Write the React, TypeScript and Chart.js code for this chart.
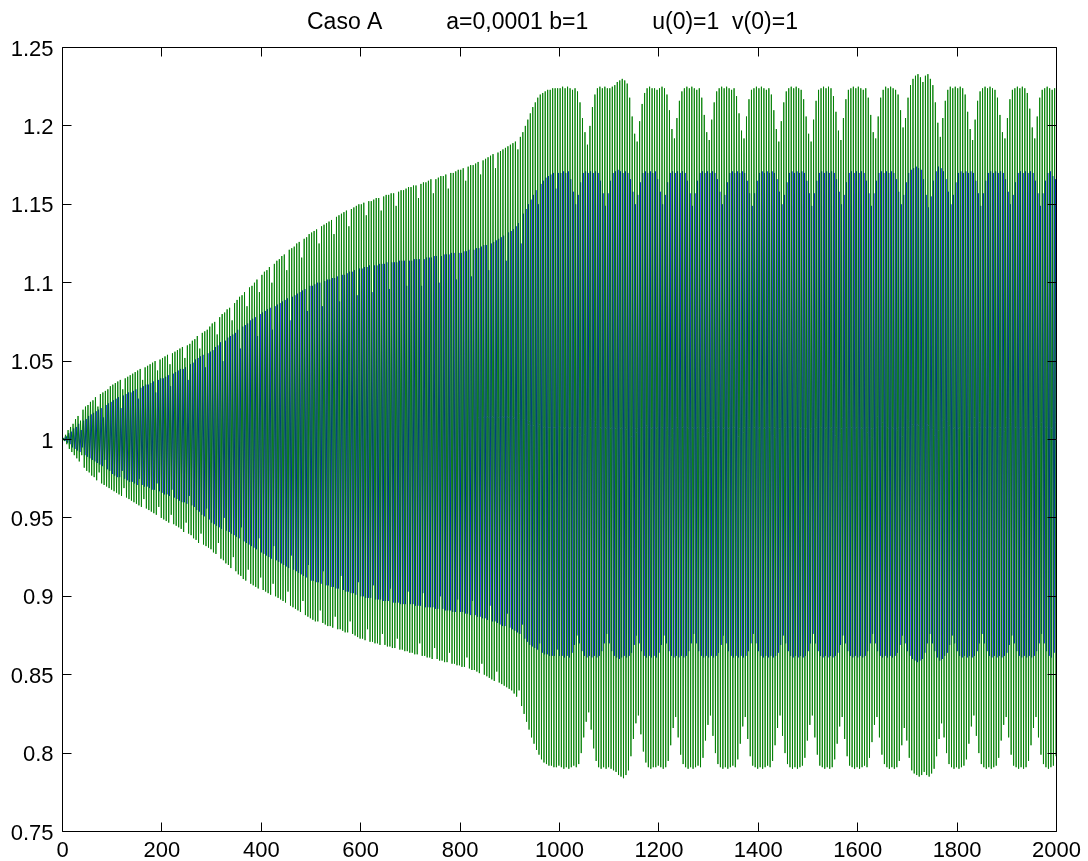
import React, { useEffect, useRef } from 'react';
import { Chart, registerables } from 'chart.js';

Chart.register(...registerables);

// Heading of the figure
const titleText = 'Caso A          a=0,0001 b=1          u(0)=1  v(0)=1';

// Initial conditions
const u0 = 1;
const v0 = 1;

// Axis ticks
const xTicks = [0, 200, 400, 600, 800, 1000, 1200, 1400, 1600, 1800, 2000];
const yTicks = [0.75, 0.8, 0.85, 0.9, 0.95, 1, 1.05, 1.1, 1.15, 1.2, 1.25];

// Length of one oscillation in time steps
const period = 5;

// v (green): successive maxima, 20 per 100 steps
const vHigh = [
  1.001, 1.003, 1.006, 1.008, 1.010, 1.013, 1.015, 1.012, 1.019, 1.021, 1.022, 1.024, 1.025, 1.027, 1.021, 1.029, 1.030, 1.031, 1.032, 1.034,
  1.035, 1.036, 1.037, 1.038, 1.032, 1.039, 1.040, 1.041, 1.042, 1.043, 1.044, 1.045, 1.038, 1.046, 1.047, 1.048, 1.049, 1.050, 1.044, 1.051,
  1.052, 1.053, 1.054, 1.048, 1.055, 1.056, 1.057, 1.058, 1.059, 1.052, 1.060, 1.061, 1.063, 1.064, 1.066, 1.058, 1.068, 1.069, 1.070, 1.072,
  1.074, 1.075, 1.067, 1.078, 1.080, 1.081, 1.083, 1.084, 1.076, 1.087, 1.089, 1.091, 1.092, 1.094, 1.085, 1.097, 1.098, 1.100, 1.102, 1.094,
  1.105, 1.107, 1.108, 1.110, 1.100, 1.112, 1.114, 1.115, 1.117, 1.118, 1.108, 1.121, 1.122, 1.123, 1.125, 1.126, 1.116, 1.128, 1.129, 1.131,
  1.132, 1.133, 1.134, 1.125, 1.136, 1.137, 1.138, 1.139, 1.140, 1.131, 1.142, 1.143, 1.144, 1.145, 1.146, 1.136, 1.147, 1.148, 1.149, 1.150,
  1.150, 1.151, 1.143, 1.152, 1.152, 1.153, 1.154, 1.154, 1.146, 1.155, 1.156, 1.156, 1.157, 1.157, 1.149, 1.158, 1.159, 1.159, 1.160, 1.161,
  1.161, 1.162, 1.162, 1.154, 1.163, 1.164, 1.164, 1.165, 1.166, 1.157, 1.166, 1.167, 1.168, 1.168, 1.169, 1.160, 1.170, 1.170, 1.171, 1.172,
  1.172, 1.173, 1.165, 1.174, 1.175, 1.175, 1.176, 1.177, 1.169, 1.178, 1.179, 1.180, 1.181, 1.182, 1.173, 1.183, 1.184, 1.185, 1.186, 1.187,
  1.188, 1.189, 1.190, 1.185, 1.193, 1.196, 1.200, 1.204, 1.208, 1.212, 1.215, 1.218, 1.220, 1.221, 1.222, 1.223, 1.223, 1.224, 1.224, 1.224,
  1.224, 1.225, 1.224, 1.225, 1.224, 1.223, 1.224, 1.222, 1.215, 1.205, 1.196, 1.188, 1.200, 1.212, 1.220, 1.224, 1.225, 1.224, 1.225, 1.224,
  1.224, 1.225, 1.226, 1.228, 1.229, 1.230, 1.229, 1.227, 1.218, 1.206, 1.195, 1.190, 1.203, 1.214, 1.221, 1.224, 1.225, 1.224, 1.224, 1.223,
  1.224, 1.225, 1.224, 1.220, 1.210, 1.198, 1.192, 1.205, 1.216, 1.222, 1.224, 1.225, 1.224, 1.225, 1.224, 1.223, 1.224, 1.218, 1.207, 1.196,
  1.191, 1.204, 1.215, 1.222, 1.224, 1.225, 1.224, 1.225, 1.224, 1.223, 1.224, 1.219, 1.208, 1.197, 1.192, 1.206, 1.217, 1.223, 1.224, 1.225,
  1.224, 1.225, 1.224, 1.223, 1.224, 1.220, 1.210, 1.198, 1.190, 1.203, 1.215, 1.222, 1.224, 1.225, 1.224, 1.225, 1.224, 1.223, 1.217, 1.206,
  1.195, 1.190, 1.204, 1.216, 1.223, 1.224, 1.225, 1.224, 1.225, 1.224, 1.219, 1.209, 1.197, 1.191, 1.205, 1.217, 1.223, 1.224, 1.225, 1.224,
  1.225, 1.224, 1.223, 1.224, 1.218, 1.207, 1.196, 1.192, 1.206, 1.218, 1.223, 1.225, 1.224, 1.225, 1.224, 1.223, 1.220, 1.210, 1.199, 1.205,
  1.218, 1.226, 1.230, 1.232, 1.233, 1.231, 1.228, 1.232, 1.233, 1.230, 1.226, 1.215, 1.202, 1.193, 1.205, 1.216, 1.223, 1.225, 1.224, 1.225,
  1.224, 1.225, 1.224, 1.220, 1.209, 1.198, 1.191, 1.204, 1.216, 1.222, 1.224, 1.225, 1.224, 1.225, 1.224, 1.223, 1.218, 1.207, 1.196, 1.192,
  1.205, 1.217, 1.223, 1.224, 1.225, 1.224, 1.225, 1.224, 1.221, 1.211, 1.199, 1.192, 1.206, 1.218, 1.223, 1.224, 1.225, 1.224, 1.223, 1.224,
];

// v (green): successive minima
const vLow = [
  0.999, 0.997, 0.994, 0.992, 0.990, 0.988, 0.986, 0.990, 0.982, 0.980, 0.979, 0.977, 0.976, 0.974, 0.979, 0.972, 0.971, 0.970, 0.969, 0.968,
  0.967, 0.966, 0.965, 0.964, 0.969, 0.963, 0.962, 0.961, 0.960, 0.959, 0.958, 0.957, 0.962, 0.956, 0.955, 0.954, 0.953, 0.952, 0.957, 0.950,
  0.949, 0.948, 0.947, 0.952, 0.946, 0.945, 0.944, 0.943, 0.941, 0.947, 0.940, 0.939, 0.937, 0.936, 0.934, 0.940, 0.933, 0.932, 0.931, 0.930,
  0.928, 0.927, 0.934, 0.924, 0.923, 0.921, 0.920, 0.918, 0.925, 0.916, 0.914, 0.913, 0.911, 0.910, 0.917, 0.908, 0.907, 0.906, 0.905, 0.912,
  0.904, 0.903, 0.902, 0.901, 0.908, 0.900, 0.899, 0.898, 0.897, 0.896, 0.903, 0.894, 0.893, 0.892, 0.891, 0.890, 0.897, 0.888, 0.887, 0.886,
  0.885, 0.884, 0.884, 0.891, 0.883, 0.882, 0.881, 0.881, 0.880, 0.887, 0.879, 0.879, 0.878, 0.877, 0.877, 0.884, 0.876, 0.875, 0.874, 0.873,
  0.873, 0.872, 0.879, 0.871, 0.871, 0.870, 0.870, 0.869, 0.876, 0.869, 0.868, 0.868, 0.867, 0.867, 0.873, 0.866, 0.866, 0.865, 0.865, 0.864,
  0.864, 0.863, 0.863, 0.870, 0.862, 0.862, 0.861, 0.861, 0.860, 0.867, 0.860, 0.859, 0.859, 0.858, 0.858, 0.864, 0.857, 0.857, 0.856, 0.856,
  0.855, 0.855, 0.861, 0.854, 0.853, 0.853, 0.852, 0.851, 0.857, 0.850, 0.849, 0.848, 0.847, 0.846, 0.852, 0.845, 0.844, 0.843, 0.842, 0.841,
  0.840, 0.838, 0.836, 0.840, 0.830, 0.825, 0.820, 0.815, 0.810, 0.806, 0.802, 0.799, 0.796, 0.794, 0.793, 0.792, 0.792, 0.791, 0.791, 0.792,
  0.791, 0.790, 0.791, 0.790, 0.791, 0.792, 0.791, 0.793, 0.800, 0.810, 0.820, 0.826, 0.815, 0.803, 0.795, 0.791, 0.790, 0.791, 0.790, 0.791,
  0.790, 0.789, 0.788, 0.786, 0.785, 0.784, 0.786, 0.789, 0.798, 0.809, 0.819, 0.824, 0.812, 0.801, 0.794, 0.791, 0.790, 0.791, 0.791, 0.792,
  0.791, 0.790, 0.791, 0.795, 0.805, 0.816, 0.823, 0.810, 0.799, 0.793, 0.791, 0.790, 0.791, 0.790, 0.791, 0.792, 0.791, 0.797, 0.808, 0.818,
  0.824, 0.811, 0.800, 0.793, 0.791, 0.790, 0.791, 0.790, 0.791, 0.792, 0.791, 0.796, 0.806, 0.817, 0.823, 0.809, 0.798, 0.792, 0.791, 0.790,
  0.791, 0.790, 0.791, 0.792, 0.791, 0.795, 0.805, 0.816, 0.824, 0.811, 0.800, 0.793, 0.791, 0.790, 0.791, 0.790, 0.791, 0.792, 0.797, 0.808,
  0.818, 0.824, 0.810, 0.799, 0.792, 0.791, 0.790, 0.791, 0.790, 0.791, 0.796, 0.806, 0.817, 0.823, 0.809, 0.798, 0.792, 0.791, 0.790, 0.791,
  0.790, 0.791, 0.792, 0.791, 0.797, 0.807, 0.818, 0.823, 0.810, 0.799, 0.793, 0.791, 0.790, 0.791, 0.790, 0.791, 0.795, 0.805, 0.816, 0.808,
  0.797, 0.789, 0.787, 0.786, 0.785, 0.786, 0.788, 0.786, 0.785, 0.787, 0.790, 0.798, 0.809, 0.819, 0.810, 0.800, 0.793, 0.791, 0.790, 0.791,
  0.790, 0.791, 0.792, 0.796, 0.806, 0.817, 0.824, 0.811, 0.800, 0.793, 0.791, 0.790, 0.791, 0.790, 0.791, 0.792, 0.797, 0.808, 0.818, 0.823,
  0.810, 0.799, 0.792, 0.791, 0.790, 0.791, 0.790, 0.791, 0.795, 0.805, 0.816, 0.823, 0.810, 0.799, 0.793, 0.791, 0.790, 0.791, 0.792, 0.798,
];

// u (blue): successive maxima
const uHigh = [
  1.001, 1.002, 1.004, 1.005, 1.007, 1.008, 1.010, 1.006, 1.012, 1.013, 1.015, 1.016, 1.017, 1.018, 1.019, 1.020, 1.014, 1.022, 1.023, 1.024,
  1.025, 1.026, 1.027, 1.020, 1.028, 1.029, 1.030, 1.030, 1.031, 1.032, 1.026, 1.033, 1.034, 1.035, 1.035, 1.036, 1.037, 1.030, 1.038, 1.039,
  1.039, 1.040, 1.041, 1.034, 1.042, 1.043, 1.044, 1.045, 1.045, 1.046, 1.038, 1.048, 1.049, 1.051, 1.052, 1.053, 1.054, 1.046, 1.055, 1.056,
  1.057, 1.059, 1.060, 1.062, 1.050, 1.063, 1.065, 1.066, 1.067, 1.068, 1.070, 1.058, 1.072, 1.073, 1.074, 1.076, 1.077, 1.078, 1.066, 1.080,
  1.081, 1.082, 1.083, 1.084, 1.070, 1.085, 1.086, 1.087, 1.088, 1.089, 1.090, 1.076, 1.091, 1.092, 1.093, 1.094, 1.095, 1.096, 1.082, 1.098,
  1.098, 1.099, 1.100, 1.100, 1.085, 1.101, 1.102, 1.102, 1.103, 1.103, 1.104, 1.088, 1.105, 1.105, 1.106, 1.107, 1.107, 1.108, 1.092, 1.109,
  1.109, 1.110, 1.110, 1.111, 1.094, 1.111, 1.111, 1.112, 1.112, 1.112, 1.113, 1.096, 1.113, 1.113, 1.113, 1.114, 1.114, 1.114, 1.098, 1.114,
  1.114, 1.115, 1.115, 1.115, 1.098, 1.115, 1.116, 1.116, 1.116, 1.117, 1.117, 1.100, 1.117, 1.118, 1.118, 1.118, 1.119, 1.119, 1.102, 1.119,
  1.119, 1.120, 1.120, 1.121, 1.104, 1.121, 1.122, 1.122, 1.123, 1.124, 1.124, 1.108, 1.125, 1.126, 1.127, 1.128, 1.129, 1.130, 1.114, 1.132,
  1.133, 1.134, 1.136, 1.138, 1.125, 1.144, 1.147, 1.150, 1.153, 1.156, 1.159, 1.150, 1.163, 1.165, 1.167, 1.168, 1.169, 1.170, 1.160, 1.170,
  1.170, 1.171, 1.170, 1.171, 1.166, 1.158, 1.150, 1.156, 1.164, 1.170, 1.171, 1.170, 1.171, 1.170, 1.171, 1.170, 1.165, 1.157, 1.149, 1.157,
  1.165, 1.170, 1.171, 1.172, 1.171, 1.170, 1.171, 1.170, 1.166, 1.158, 1.150, 1.156, 1.164, 1.170, 1.171, 1.170, 1.171, 1.170, 1.171, 1.166,
  1.158, 1.150, 1.156, 1.164, 1.170, 1.171, 1.170, 1.171, 1.170, 1.171, 1.170, 1.165, 1.157, 1.149, 1.157, 1.165, 1.170, 1.171, 1.170, 1.171,
  1.170, 1.171, 1.170, 1.166, 1.158, 1.150, 1.156, 1.164, 1.170, 1.171, 1.170, 1.171, 1.170, 1.171, 1.170, 1.165, 1.157, 1.149, 1.157, 1.165,
  1.170, 1.171, 1.170, 1.171, 1.170, 1.171, 1.170, 1.166, 1.158, 1.150, 1.156, 1.164, 1.170, 1.171, 1.170, 1.171, 1.170, 1.171, 1.170, 1.165,
  1.157, 1.149, 1.157, 1.165, 1.170, 1.171, 1.170, 1.171, 1.170, 1.171, 1.170, 1.166, 1.158, 1.150, 1.156, 1.164, 1.170, 1.171, 1.170, 1.171,
  1.170, 1.171, 1.170, 1.165, 1.157, 1.149, 1.157, 1.165, 1.170, 1.171, 1.170, 1.171, 1.170, 1.171, 1.170, 1.166, 1.158, 1.150, 1.156, 1.164,
  1.170, 1.172, 1.173, 1.174, 1.173, 1.172, 1.166, 1.156, 1.148, 1.155, 1.165, 1.171, 1.174, 1.173, 1.171, 1.166, 1.158, 1.150, 1.156, 1.164,
  1.170, 1.171, 1.170, 1.171, 1.170, 1.171, 1.170, 1.165, 1.157, 1.149, 1.157, 1.165, 1.170, 1.171, 1.170, 1.171, 1.170, 1.171, 1.170, 1.166,
  1.158, 1.150, 1.156, 1.164, 1.170, 1.171, 1.170, 1.171, 1.170, 1.171, 1.170, 1.165, 1.157, 1.149, 1.157, 1.165, 1.170, 1.171, 1.168, 1.166,
];

// u (blue): successive minima
const uLow = [
  0.999, 0.998, 0.997, 0.995, 0.994, 0.993, 0.992, 0.995, 0.990, 0.989, 0.988, 0.987, 0.986, 0.985, 0.984, 0.983, 0.987, 0.981, 0.980, 0.978,
  0.977, 0.976, 0.976, 0.980, 0.975, 0.974, 0.973, 0.973, 0.972, 0.971, 0.975, 0.971, 0.970, 0.970, 0.969, 0.968, 0.968, 0.972, 0.967, 0.966,
  0.965, 0.965, 0.964, 0.968, 0.963, 0.962, 0.961, 0.960, 0.960, 0.959, 0.964, 0.958, 0.957, 0.955, 0.954, 0.952, 0.951, 0.956, 0.949, 0.947,
  0.946, 0.945, 0.944, 0.943, 0.950, 0.942, 0.941, 0.940, 0.939, 0.938, 0.937, 0.944, 0.935, 0.934, 0.933, 0.932, 0.931, 0.930, 0.937, 0.928,
  0.927, 0.926, 0.925, 0.924, 0.932, 0.923, 0.922, 0.921, 0.920, 0.919, 0.918, 0.926, 0.917, 0.916, 0.915, 0.914, 0.913, 0.912, 0.920, 0.910,
  0.910, 0.909, 0.909, 0.908, 0.916, 0.907, 0.907, 0.906, 0.906, 0.905, 0.905, 0.913, 0.904, 0.903, 0.903, 0.902, 0.902, 0.901, 0.909, 0.900,
  0.900, 0.899, 0.899, 0.899, 0.907, 0.898, 0.898, 0.898, 0.897, 0.897, 0.897, 0.905, 0.896, 0.896, 0.896, 0.895, 0.895, 0.895, 0.903, 0.895,
  0.895, 0.894, 0.894, 0.894, 0.902, 0.893, 0.893, 0.893, 0.893, 0.892, 0.892, 0.900, 0.892, 0.891, 0.891, 0.891, 0.890, 0.890, 0.898, 0.890,
  0.890, 0.889, 0.889, 0.888, 0.897, 0.888, 0.887, 0.887, 0.886, 0.886, 0.885, 0.894, 0.884, 0.884, 0.883, 0.882, 0.881, 0.881, 0.889, 0.880,
  0.879, 0.878, 0.877, 0.876, 0.882, 0.873, 0.871, 0.869, 0.868, 0.867, 0.866, 0.870, 0.864, 0.863, 0.863, 0.862, 0.862, 0.862, 0.866, 0.862,
  0.862, 0.861, 0.862, 0.861, 0.864, 0.869, 0.875, 0.870, 0.865, 0.862, 0.861, 0.862, 0.861, 0.862, 0.861, 0.862, 0.865, 0.870, 0.876, 0.870,
  0.865, 0.862, 0.861, 0.860, 0.861, 0.862, 0.861, 0.862, 0.864, 0.869, 0.875, 0.870, 0.865, 0.862, 0.861, 0.862, 0.861, 0.862, 0.861, 0.864,
  0.869, 0.875, 0.870, 0.865, 0.862, 0.861, 0.862, 0.861, 0.862, 0.861, 0.862, 0.865, 0.870, 0.876, 0.870, 0.865, 0.862, 0.861, 0.862, 0.861,
  0.862, 0.861, 0.862, 0.864, 0.869, 0.875, 0.870, 0.865, 0.862, 0.861, 0.862, 0.861, 0.862, 0.861, 0.862, 0.865, 0.870, 0.876, 0.870, 0.865,
  0.862, 0.861, 0.862, 0.861, 0.862, 0.861, 0.862, 0.864, 0.869, 0.875, 0.870, 0.865, 0.862, 0.861, 0.862, 0.861, 0.862, 0.861, 0.862, 0.865,
  0.870, 0.876, 0.870, 0.865, 0.862, 0.861, 0.862, 0.861, 0.862, 0.861, 0.862, 0.864, 0.869, 0.875, 0.870, 0.865, 0.862, 0.861, 0.862, 0.861,
  0.862, 0.861, 0.862, 0.865, 0.870, 0.876, 0.870, 0.865, 0.862, 0.861, 0.862, 0.861, 0.862, 0.861, 0.862, 0.864, 0.869, 0.875, 0.870, 0.865,
  0.862, 0.860, 0.859, 0.858, 0.859, 0.860, 0.864, 0.870, 0.876, 0.870, 0.865, 0.861, 0.859, 0.860, 0.862, 0.864, 0.869, 0.875, 0.870, 0.865,
  0.862, 0.861, 0.862, 0.861, 0.862, 0.861, 0.862, 0.865, 0.870, 0.876, 0.870, 0.865, 0.862, 0.861, 0.862, 0.861, 0.862, 0.861, 0.862, 0.864,
  0.869, 0.875, 0.870, 0.865, 0.862, 0.861, 0.862, 0.861, 0.862, 0.861, 0.862, 0.865, 0.870, 0.876, 0.870, 0.865, 0.862, 0.861, 0.864, 0.870,
];

type Pt = { x: number; y: number };

// Joins the start value with alternating maxima and minima along the time axis
function trace(start: number, highs: number[], lows: number[], offset: number): Pt[] {
  const pts: Pt[] = [{ x: 0, y: start }];
  highs.forEach((h, i) => {
    pts.push({ x: i * period + offset, y: h });
    if (i < lows.length) pts.push({ x: i * period + offset + period / 2, y: lows[i] });
  });
  return pts;
}

const FONT = '"Liberation Sans", Arial, Helvetica, sans-serif';
const TICK_FONT = `22px ${FONT}`;
const TITLE_FONT = `23px ${FONT}`;

// Box, inward tick marks, tick labels and heading, drawn over the data
const framePlugin = {
  id: 'matlabFrame',
  afterDraw(chart: any) {
    const { ctx, chartArea, scales } = chart;
    const { left, right, top, bottom } = chartArea;
    const xs = scales.x;
    const ys = scales.y;
    const len = 9;
    ctx.save();
    ctx.strokeStyle = '#000';
    ctx.lineWidth = 1;
    ctx.beginPath();
    ctx.rect(left, top, right - left, bottom - top);
    ctx.stroke();
    ctx.beginPath();
    xTicks.forEach((t) => {
      const px = Math.round(xs.getPixelForValue(t) - 0.5) + 0.5;
      ctx.moveTo(px, bottom);
      ctx.lineTo(px, bottom - len);
      ctx.moveTo(px, top);
      ctx.lineTo(px, top + len);
    });
    yTicks.forEach((t) => {
      const py = Math.round(ys.getPixelForValue(t) - 0.5) + 0.5;
      ctx.moveTo(left, py);
      ctx.lineTo(left + len, py);
      ctx.moveTo(right, py);
      ctx.lineTo(right - len, py);
    });
    ctx.stroke();

    ctx.fillStyle = '#000';
    ctx.font = TICK_FONT;
    ctx.textBaseline = 'alphabetic';
    ctx.textAlign = 'right';
    yTicks.forEach((t) => {
      ctx.fillText(String(t), left - 9, ys.getPixelForValue(t) + 8);
    });
    ctx.textAlign = 'center';
    xTicks.forEach((t) => {
      ctx.fillText(String(t), xs.getPixelForValue(t), 857);
    });

    ctx.font = TITLE_FONT;
    ctx.textAlign = 'left';
    ctx.fillText(titleText, 307, 29);
    ctx.restore();
  },
};

export default function App() {
  const canvasRef = useRef<HTMLCanvasElement | null>(null);

  useEffect(() => {
    const canvas = canvasRef.current;
    if (!canvas) return;
    const chart = new Chart(canvas, {
      type: 'line',
      data: {
        datasets: [
          {
            label: 'v',
            data: trace(v0, vHigh, vLow, 1.25),
            borderColor: 'rgb(0,128,0)',
            borderWidth: 0.9,
            pointRadius: 0,
            tension: 0,
            fill: false,
            order: 1,
          },
          {
            label: 'u',
            data: trace(u0, uHigh, uLow, 2.5),
            borderColor: 'rgb(0,0,255)',
            borderWidth: 1,
            pointRadius: 0,
            tension: 0,
            fill: false,
            order: 2,
          },
        ],
      },
      options: {
        responsive: false,
        animation: false,
        devicePixelRatio: 1,
        events: [],
        normalized: true,
        parsing: false,
        layout: { padding: { top: 47.5, right: 31.5, bottom: 0, left: 0 } },
        plugins: {
          legend: { display: false },
          tooltip: { enabled: false },
          title: { display: false },
        },
        scales: {
          x: {
            type: 'linear',
            min: 0,
            max: 2000,
            grid: { display: false },
            border: { display: false },
            ticks: { display: false },
            afterFit: (scale: any) => {
              scale.height = 29.5;
            },
          },
          y: {
            type: 'linear',
            min: 0.75,
            max: 1.25,
            grid: { display: false },
            border: { display: false },
            ticks: { display: false },
            afterFit: (scale: any) => {
              scale.width = 62.5;
            },
          },
        },
      },
      plugins: [framePlugin],
    });
    return () => chart.destroy();
  }, []);

  return (
    <div style={{ position: 'absolute', left: 0, top: 0, width: 1088, height: 861, background: '#fff' }}>
      <canvas ref={canvasRef} width={1088} height={861} style={{ display: 'block', width: 1088, height: 861 }} />
    </div>
  );
}
